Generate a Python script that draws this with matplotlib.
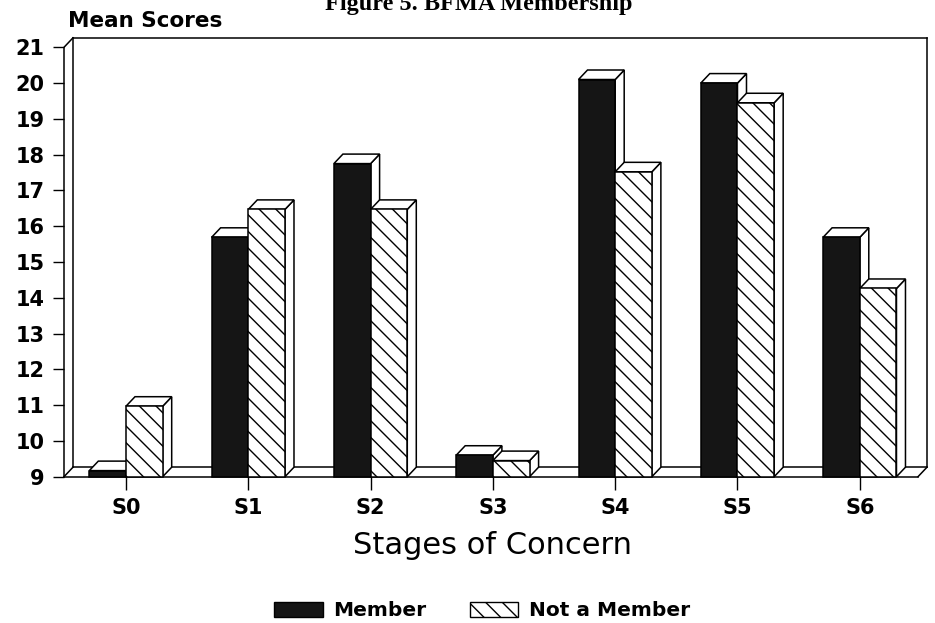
import matplotlib
matplotlib.use("Agg")
import matplotlib.pyplot as plt
from matplotlib.patches import Polygon, Patch

stages = ["S0", "S1", "S2", "S3", "S4", "S5", "S6"]
member = [9.17, 15.69, 17.75, 9.6, 20.1, 20.0, 15.69]
not_member = [10.97, 16.47, 16.47, 9.45, 17.52, 19.45, 14.26]
yticks = list(range(9, 22))

W, H = 935, 623
plt.rcParams['hatch.linewidth'] = 1.0
fig = plt.figure(figsize=(W / 100, H / 100), dpi=100)
fig.patch.set_facecolor("white")

# front plane of the pseudo-3D box, in pixels
left_px, right_px, bottom_px, top_px = 64, 918, 476.7, 47.3
ax = fig.add_axes([left_px / W, (H - bottom_px) / H, (right_px - left_px) / W, (bottom_px - top_px) / H])
xmin, xmax = -0.507, 6.476
ymin, ymax = 9, 21
ax.set_xlim(xmin, xmax)
ax.set_ylim(ymin, ymax)
for s in ax.spines.values():
    s.set_visible(False)

# depth offset (pixels -> data)
ddx = 9 / (right_px - left_px) * (xmax - xmin)
ddy = 9.5 / (bottom_px - top_px) * (ymax - ymin)

lw = 1.1
k = dict(color="black", lw=lw, clip_on=False, zorder=1)
# left wall, floor, back wall outline
ax.plot([xmin, xmin, xmin + ddx], [ymin, ymax, ymax + ddy], **k)
ax.plot([xmin + ddx, xmin + ddx], [ymin + ddy, ymax + ddy], **k)
ax.plot([xmin, xmax], [ymin, ymin], **k)
ax.plot([xmin + ddx, xmax + ddx], [ymin + ddy, ymin + ddy], **k)
ax.plot([xmin, xmin + ddx], [ymin, ymin + ddy], **k)
ax.plot([xmax, xmax + ddx], [ymin, ymin + ddy], **k)
ax.plot([xmin + ddx, xmax + ddx], [ymax + ddy, ymax + ddy], **k)
ax.plot([xmax + ddx, xmax + ddx], [ymin + ddy, ymax + ddy], **k)

bw = 0.30
HATCH = "\\\\"


def bar3d(x0, v, face, hatch):
    x1 = x0 + bw
    front = Polygon([(x0, ymin), (x1, ymin), (x1, v), (x0, v)], closed=True,
                    facecolor=face, edgecolor="black", lw=lw, hatch=hatch, zorder=3, clip_on=False)
    top = Polygon([(x0, v), (x1, v), (x1 + ddx, v + ddy), (x0 + ddx, v + ddy)], closed=True,
                  facecolor="white", edgecolor="black", lw=lw, zorder=3, clip_on=False)
    side = Polygon([(x1, ymin), (x1 + ddx, ymin + ddy), (x1 + ddx, v + ddy), (x1, v)], closed=True,
                   facecolor="white", edgecolor="black", lw=lw, zorder=3, clip_on=False)
    for p in (side, top, front):
        ax.add_patch(p)


for i in range(len(stages)):
    bar3d(i - bw, member[i], "#151515", None)
    bar3d(i, not_member[i], "white", HATCH)

ax.set_yticks(yticks)
ax.set_yticklabels([str(t) for t in yticks], fontsize=15, fontweight="bold")
ax.set_xticks(range(len(stages)))
ax.set_xticklabels(stages, fontsize=15, fontweight="bold")
ax.tick_params(axis="y", direction="out", length=8, width=1, pad=6)
ax.tick_params(axis="x", direction="out", length=9.4, width=1, pad=6)

fig.text(492 / W, (H - 545) / H, "Stages of Concern", fontsize=22, ha="center", va="center")
fig.text(68 / W, (H - 27) / H, "Mean Scores", fontsize=15.5, fontweight="bold", ha="left", va="baseline")
fig.text(479 / W, (H - 10) / H, "Figure 5. BFMA Membership", fontsize=17.5, fontweight="bold",
         family="Liberation Serif", ha="center", va="baseline")

handles = [Patch(facecolor="#151515", edgecolor="black", label="Member"),
           Patch(facecolor="white", edgecolor="black", hatch=HATCH, label="Not a Member")]
fig.legend(handles=handles, loc="center", bbox_to_anchor=(482 / W, (H - 611) / H), ncol=2,
           frameon=False, prop={"size": 14.5, "weight": "bold"}, handlelength=2.4,
           handleheight=0.8, handletextpad=0.5, columnspacing=2.2)

fig.savefig("out.png", dpi=100, facecolor="white")
